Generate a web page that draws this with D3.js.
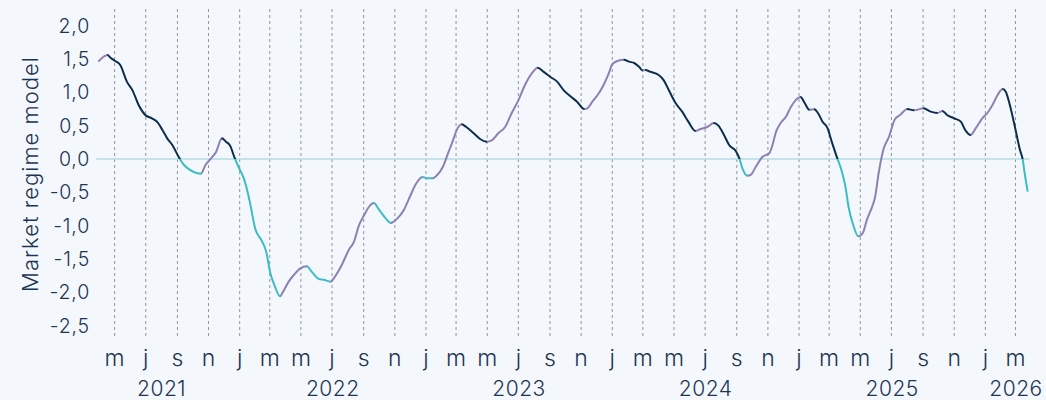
<!DOCTYPE html>
<html><head><meta charset="utf-8">
<script src="https://cdn.jsdelivr.net/npm/d3@7"></script>
<style>
html,body{margin:0;padding:0;background:#f4f8fc;}
svg{display:block;}
text{font-family:Inter, "Noto Sans", sans-serif;fill:#1c3553;font-weight:300;}
</style></head>
<body><svg id="chart" width="1046" height="400"></svg>
<script>
const dates = ["2021-03-30","2021-04-17","2021-04-23","2021-05-02","2021-05-12","2021-05-25","2021-06-05","2021-06-17","2021-06-30","2021-07-13","2021-07-23","2021-08-03","2021-08-12","2021-08-22","2021-09-05","2021-09-14","2021-09-27","2021-10-17","2021-10-26","2021-11-06","2021-11-16","2021-11-27","2021-12-05","2021-12-14","2021-12-21","2021-12-31","2022-01-10","2022-01-20","2022-02-01","2022-02-12","2022-02-22","2022-03-02","2022-03-11","2022-03-21","2022-03-27","2022-04-07","2022-04-17","2022-04-30","2022-05-13","2022-05-22","2022-06-05","2022-06-15","2022-06-28","2022-07-07","2022-07-20","2022-08-03","2022-08-13","2022-08-22","2022-09-02","2022-09-11","2022-09-21","2022-10-01","2022-10-14","2022-10-24","2022-11-06","2022-11-19","2022-12-02","2022-12-12","2022-12-25","2023-01-04","2023-01-14","2023-01-23","2023-02-03","2023-02-13","2023-02-23","2023-03-02","2023-03-12","2023-03-21","2023-04-04","2023-04-17","2023-04-30","2023-05-10","2023-05-23","2023-06-05","2023-06-18","2023-07-01","2023-07-14","2023-07-27","2023-08-08","2023-08-19","2023-09-02","2023-09-15","2023-09-28","2023-10-11","2023-10-24","2023-11-07","2023-11-13","2023-11-23","2023-12-06","2023-12-15","2023-12-25","2024-01-01","2024-01-11","2024-01-24","2024-02-03","2024-02-13","2024-02-23","2024-02-29","2024-03-06","2024-03-15","2024-04-01","2024-04-11","2024-04-21","2024-05-04","2024-05-17","2024-05-29","2024-06-12","2024-06-22","2024-07-05","2024-07-18","2024-07-27","2024-08-07","2024-08-17","2024-08-30","2024-09-06","2024-09-12","2024-09-22","2024-09-28","2024-10-08","2024-10-21","2024-11-04","2024-11-10","2024-11-17","2024-11-26","2024-12-06","2024-12-16","2024-12-25","2025-01-04","2025-01-12","2025-01-21","2025-01-31","2025-02-07","2025-02-16","2025-02-26","2025-03-06","2025-03-16","2025-03-26","2025-04-02","2025-04-08","2025-04-18","2025-04-27","2025-05-06","2025-05-14","2025-05-23","2025-05-30","2025-06-06","2025-06-16","2025-06-26","2025-07-08","2025-07-18","2025-08-01","2025-08-14","2025-09-02","2025-09-16","2025-09-29","2025-10-09","2025-10-18","2025-11-01","2025-11-14","2025-11-23","2025-12-03","2025-12-13","2025-12-26","2026-01-05","2026-01-15","2026-01-25","2026-02-04","2026-02-10","2026-02-19","2026-02-28","2026-03-10","2026-03-15","2026-03-19","2026-03-25"];
const values = [1.46,1.56,1.52,1.47,1.41,1.16,1.03,0.81,0.66,0.61,0.56,0.43,0.31,0.21,0.01,-0.09,-0.17,-0.22,-0.09,0.01,0.11,0.31,0.26,0.19,0.04,-0.14,-0.31,-0.61,-1.06,-1.21,-1.39,-1.71,-1.91,-2.06,-1.99,-1.84,-1.74,-1.64,-1.61,-1.69,-1.80,-1.81,-1.84,-1.76,-1.59,-1.36,-1.24,-1.01,-0.84,-0.72,-0.66,-0.76,-0.89,-0.96,-0.89,-0.76,-0.54,-0.38,-0.27,-0.29,-0.29,-0.24,-0.12,0.08,0.28,0.43,0.52,0.48,0.39,0.30,0.26,0.28,0.39,0.48,0.69,0.88,1.11,1.28,1.37,1.31,1.23,1.16,1.03,0.94,0.86,0.75,0.76,0.86,0.99,1.11,1.28,1.42,1.47,1.49,1.46,1.44,1.38,1.33,1.335,1.31,1.26,1.18,1.03,0.84,0.71,0.56,0.42,0.45,0.48,0.54,0.50,0.36,0.21,0.12,0.01,-0.14,-0.25,-0.24,-0.12,0.03,0.09,0.21,0.41,0.54,0.63,0.78,0.88,0.93,0.84,0.74,0.745,0.69,0.56,0.46,0.26,0.03,-0.19,-0.42,-0.72,-1.01,-1.16,-1.11,-0.91,-0.74,-0.57,-0.21,0.16,0.33,0.60,0.66,0.75,0.73,0.76,0.71,0.69,0.72,0.66,0.61,0.56,0.43,0.36,0.46,0.61,0.69,0.81,0.96,1.05,1.01,0.78,0.48,0.13,0.00,-0.21,-0.49];
const yTicks = [2.0,1.5,1.0,0.5,0.0,-0.5,-1.0,-1.5,-2.0,-2.5];
const monthInitials = ["j","f","m","a","m","j","j","a","s","o","n","d"];
const yDomain = [-2.7, 2.25];
const yTitle = "Market regime model";
const colors = {rising:"#8d80b2", fallingPos:"#0c2d4b", fallingNeg:"#3dbcc6"};

const parse = d3.timeParse("%Y-%m-%d");
const data = dates.map((d,i)=>({date:parse(d), v:values[i]}));
const svg = d3.select("#chart");
const x = d3.scaleTime().domain(d3.extent(data,d=>d.date)).range([98.3,1027.7]);
const y = d3.scaleLinear().domain(yDomain).range([339,9]);
const fmtNum = v => d3.format(".1f")(v).replace(".",",").replace("−","-");

const xTicks = d3.timeMonth.every(2).range(d3.timeMonth.every(2).floor(x.domain()[0]), d3.timeMonth.offset(x.domain()[1],1)).filter(d=>d>=x.domain()[0]&&d<=x.domain()[1]);

// grid lines
svg.append("g").selectAll("line").data(xTicks).join("line")
  .attr("x1",d=>x(d)).attr("x2",d=>x(d)).attr("y1",y(yDomain[1])).attr("y2",y(yDomain[0]))
  .attr("stroke","#8f959c").attr("stroke-width",1).attr("stroke-dasharray","3,3");

// zero line
svg.append("line").attr("x1",x.range()[0]-2).attr("x2",x.range()[1]+2).attr("y1",y(0)).attr("y2",y(0))
  .attr("stroke","#b4dde6").attr("stroke-width",1.5);

// y tick labels
svg.append("g").selectAll("text").data(yTicks).join("text")
  .attr("x",90).attr("y",d=>y(d)).attr("dy","0.36em").attr("text-anchor","end")
  .attr("font-size",19.5).attr("letter-spacing",0.8).text(d=>fmtNum(d));

// y title
svg.append("text").attr("transform",`translate(38,${(y(yDomain[0])+y(yDomain[1]))/2}) rotate(-90)`)
  .attr("text-anchor","middle").attr("font-size",22).attr("letter-spacing",1).text(yTitle);

// month labels
svg.append("g").selectAll("text").data(xTicks).join("text")
  .attr("x",d=>x(d)).attr("y",366).attr("text-anchor","middle").attr("font-size",23)
  .text(d=>monthInitials[d.getMonth()]);

// year labels
const yStart = d3.timeMonth.every(2).floor(x.domain()[0]);
const yEnd = d3.timeMonth.every(2).ceil(x.domain()[1]);
const years = d3.range(x.domain()[0].getFullYear(), x.domain()[1].getFullYear()+1);
svg.append("g").selectAll("text").data(years).join("text")
  .attr("x",yr=>{const a=d3.max([new Date(yr,0,1),yStart]);const b=d3.min([new Date(yr+1,0,1),yEnd]);return (x(a)+x(b))/2;})
  .attr("y",396).attr("text-anchor","middle").attr("font-size",21).attr("letter-spacing",0.5).text(yr=>yr);

// regime clips: rising (any sign), falling above zero, falling below zero
const defs = svg.append("defs");
const runs = [];
for(let i=0;i<data.length-1;i++){
  const rising = data[i+1].v > data[i].v;
  const x0 = x(data[i].date), x1 = x(data[i+1].date);
  const last = runs[runs.length-1];
  if(last && last.rising===rising){ last.x1 = x1; } else { runs.push({rising, x0, x1}); }
}
const pad = 3;
const clipR = defs.append("clipPath").attr("id","clipRise");
const clipP = defs.append("clipPath").attr("id","clipFallPos");
const clipN = defs.append("clipPath").attr("id","clipFallNeg");
runs.forEach((r,i)=>{
  const a = i===0 ? r.x0-pad : r.x0-0.3;
  const b = i===runs.length-1 ? r.x1+pad : r.x1+0.3;
  if(r.rising){
    clipR.append("rect").attr("x",a).attr("width",b-a).attr("y",0).attr("height",400);
  } else {
    clipP.append("rect").attr("x",a).attr("width",b-a).attr("y",0).attr("height",y(0));
    clipN.append("rect").attr("x",a).attr("width",b-a).attr("y",y(0)).attr("height",400-y(0));
  }
});

const line = d3.line().x(d=>x(d.date)).y(d=>y(d.v)).curve(d3.curveMonotoneX);
const pathD = line(data);
[["clipRise",colors.rising],["clipFallPos",colors.fallingPos],["clipFallNeg",colors.fallingNeg]].forEach(([id,c])=>{
  svg.append("path").attr("d",pathD).attr("fill","none").attr("stroke",c)
    .attr("stroke-width",2).attr("stroke-linejoin","round").attr("stroke-linecap","butt")
    .attr("clip-path",`url(#${id})`);
});
</script></body></html>
